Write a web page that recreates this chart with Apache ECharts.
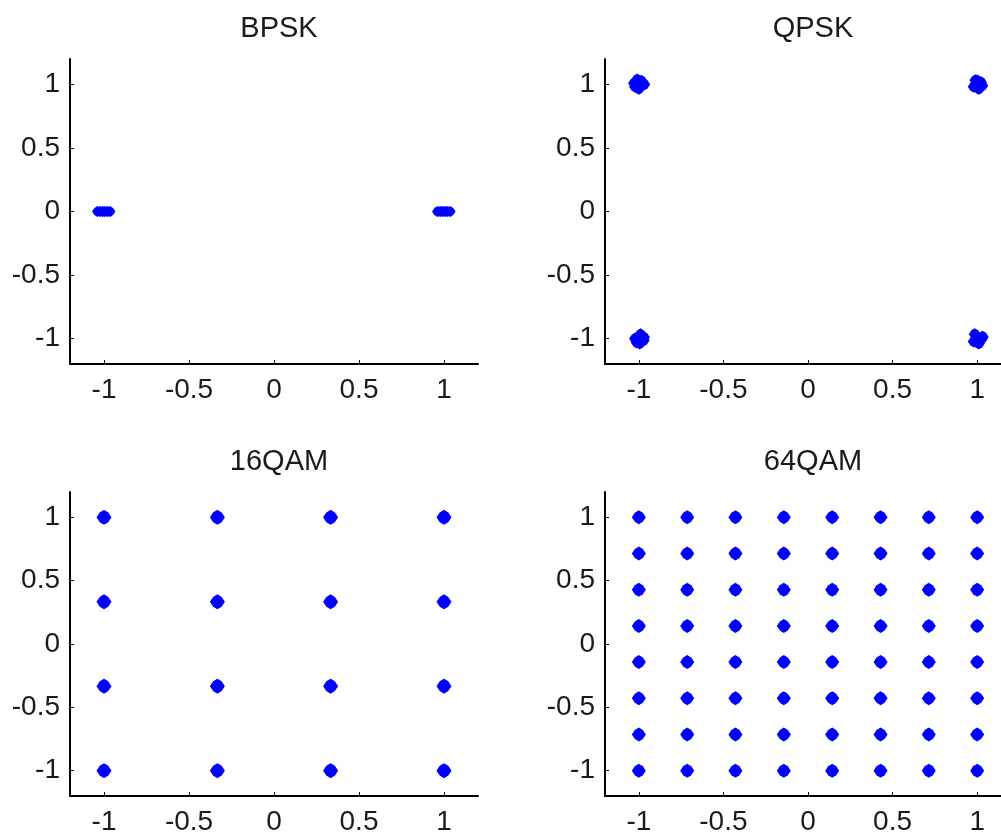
<!DOCTYPE html>
<html>
<head>
<meta charset="utf-8">
<script src="https://cdn.jsdelivr.net/npm/echarts@6/dist/echarts.min.js"></script>
<style>
  html, body { margin: 0; padding: 0; background: #fff; overflow: hidden; }
  #chart { width: 1001px; height: 832px; }
</style>
</head>
<body>
<div id="chart"></div>
<script>
// Panel titles
const titles = ['BPSK', 'QPSK', '16QAM', '64QAM'];

// Tick values shared by every axis
const tickValues = [-1, -0.5, 0, 0.5, 1];
const axisMin = -1.2;
const axisMax = 1.2;

// Received BPSK samples [I, Q]
const bpskPoints = [
  [-1.038, 0], [-1.022, 0], [-1.008, 0], [-0.995, 0], [-0.98, 0], [-0.965, 0],
  [0.962, 0], [0.978, 0], [0.992, 0], [1.006, 0], [1.02, 0], [1.036, 0]
];

// Received QPSK samples [I, Q]
const qpskPoints = [
  [-1.028, 1.01], [-1.0, 0.965], [-0.968, 1.0], [-1.01, 1.038], [-0.985, 1.028], [-1.022, 0.982],
  [1.0, 1.03], [1.03, 0.99], [0.98, 0.982], [1.01, 0.965], [0.99, 1.032], [1.022, 1.018],
  [-1.022, -1.0], [-0.99, -0.966], [-0.97, -0.99], [-1.012, -1.03], [-0.995, -1.038], [-0.972, -1.015],
  [0.986, -0.965], [1.028, -1.0], [0.98, -1.022], [1.01, -1.038], [1.032, -0.985], [1.005, -1.01]
];

// 16QAM amplitude levels (per axis)
const qam16Levels = [-1, -0.333, 0.333, 1];

// 64QAM amplitude levels (per axis)
const qam64Levels = [-1, -0.714, -0.429, -0.143, 0.143, 0.429, 0.714, 1];

// Constellation grid built from the level lists
function gridPoints(levels) {
  const pts = [];
  levels.forEach(function (q) {
    levels.forEach(function (i) { pts.push([i, q]); });
  });
  return pts;
}

const dotPath = 'path://M0,-7L4,-4.5L7,0L4,4.5L0,7L-4,4.5L-7,0L-4,-4.5Z';
const fontFamily = '"Liberation Sans", Arial, sans-serif';

const grids = [
  { left: 70,  top: 59,  width: 408, height: 305, outerBoundsMode: 'none' },
  { left: 605, top: 59,  width: 406, height: 305, outerBoundsMode: 'none' },
  { left: 70,  top: 492, width: 408, height: 304, outerBoundsMode: 'none' },
  { left: 605, top: 492, width: 406, height: 304, outerBoundsMode: 'none' }
];

function axis(type, idx) {
  return {
    type: 'value',
    gridIndex: idx,
    min: axisMin,
    max: axisMax,
    splitLine: { show: false },
    axisLine: { show: true, onZero: false, lineStyle: { color: '#000', width: 2 } },
    axisTick: { show: true, inside: true, length: 4, customValues: tickValues,
                lineStyle: { color: '#000', width: 1 } },
    axisLabel: {
      show: true,
      customValues: tickValues,
      color: '#1a1a1a',
      fontSize: 28,
      fontFamily: fontFamily,
      margin: type === 'x' ? 12 : 10,
      formatter: function (v) { return String(v); }
    }
  };
}

const seriesData = [
  { pts: bpskPoints, size: 11 },
  { pts: qpskPoints, size: 12 },
  { pts: gridPoints(qam16Levels), size: 15 },
  { pts: gridPoints(qam64Levels), size: 14 }
];

const option = {
  backgroundColor: '#fff',
  animation: false,
  title: titles.map(function (t, i) {
    return {
      text: t,
      left: i % 2 === 0 ? 70 + 204 : 605 + 203,
      textAlign: 'center',
      top: i < 2 ? 9 : 442,
      textStyle: { fontSize: 29, fontWeight: 'normal', color: '#1a1a1a', fontFamily: fontFamily }
    };
  }),
  grid: grids,
  xAxis: grids.map(function (g, i) { return axis('x', i); }),
  yAxis: grids.map(function (g, i) { return axis('y', i); }),
  series: seriesData.map(function (s, i) {
    return {
      type: 'scatter',
      xAxisIndex: i,
      yAxisIndex: i,
      data: s.pts,
      symbol: dotPath,
      symbolSize: s.size,
      itemStyle: { color: '#0000ff', opacity: 1 },
      silent: true
    };
  })
};

const chart = echarts.init(document.getElementById('chart'), null, { renderer: 'canvas' });
chart.setOption(option);
</script>
</body>
</html>
